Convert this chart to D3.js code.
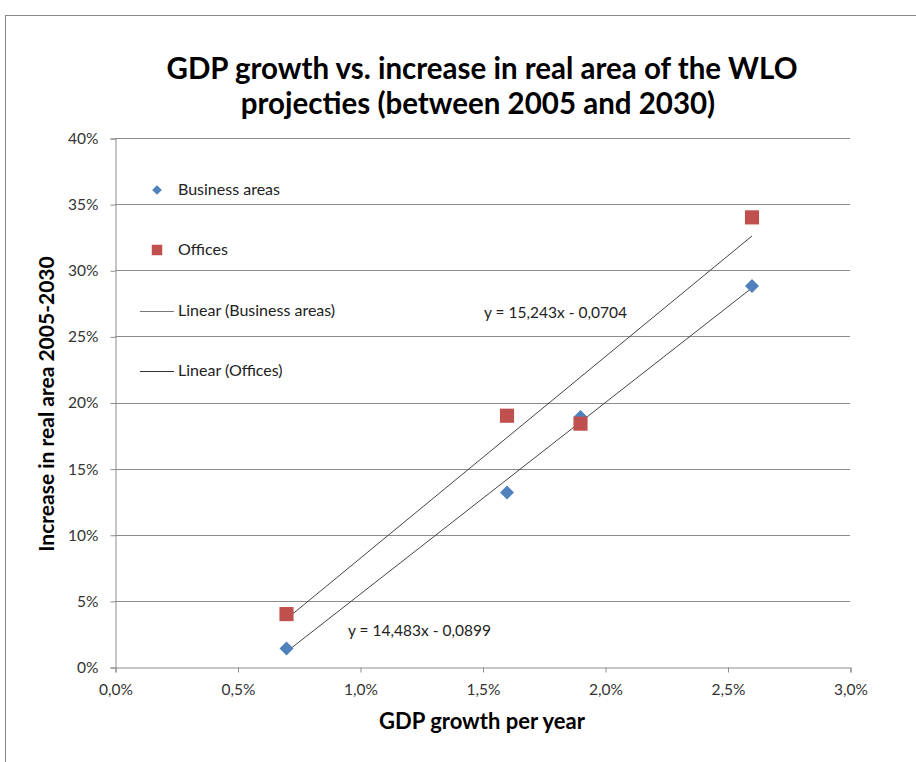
<!DOCTYPE html>
<html><head><meta charset="utf-8">
<script src="https://cdn.jsdelivr.net/npm/d3@7/dist/d3.min.js"></script>
<style>body{margin:0;background:#fff}svg{display:block;font-family:Lato,"Open Sans",sans-serif}</style>
</head><body>
<script>
const xValues = [0.007, 0.016, 0.019, 0.026];
const businessAreas = [0.014, 0.132, 0.189, 0.288];
const offices = [0.040, 0.190, 0.184, 0.340];
const trendBusiness = {slope: 14.483, intercept: -0.0899, label: "y = 14,483x - 0,0899"};
const trendOffices = {slope: 15.243, intercept: -0.0704, label: "y = 15,243x - 0,0704"};
const xTicks = [0, 0.005, 0.01, 0.015, 0.02, 0.025, 0.03];
const yTicks = [0, 0.05, 0.10, 0.15, 0.20, 0.25, 0.30, 0.35, 0.40];
const seriesNames = ["Business areas", "Offices", "Linear (Business areas)", "Linear (Offices)"];

const W = 916, H = 762;
const svg = d3.select("body").append("svg").attr("width", W).attr("height", H);
svg.append("rect").attr("x", 5.5).attr("y", 15.5).attr("width", 1000).attr("height", 1000)
  .attr("fill", "#fff").attr("stroke", "#888").attr("stroke-width", 1);

const x = d3.scaleLinear().domain([0, 0.03]).range([115, 850]);
const y = d3.scaleLinear().domain([0, 0.40]).range([667, 138]);
const comma = d => d3.format(".1%")(d).replace(".", ",");
const pct = d => d3.format(".0%")(d);

// gridlines
svg.append("g").selectAll("line").data(yTicks.slice(1)).join("line")
  .attr("x1", x(0)).attr("x2", x(0.03)).attr("y1", d => Math.round(y(d)) + 0.5).attr("y2", d => Math.round(y(d)) + 0.5)
  .attr("stroke", "#8c8c8c").attr("stroke-width", 1);

const yAxis = svg.append("g").attr("transform", `translate(${x(0) + 0.5},0.5)`)
  .call(d3.axisLeft(y).tickValues(yTicks).tickFormat(pct).tickSize(5).tickPadding(12));
const xAxis = svg.append("g").attr("transform", `translate(0.5,${Math.round(y(0)) + 0.5})`)
  .call(d3.axisBottom(x).tickValues(xTicks).tickFormat(comma).tickSize(5).tickPadding(11));
[yAxis, xAxis].forEach(a => {
  a.select(".domain").attr("stroke", "#8c8c8c");
  a.selectAll(".tick line").attr("stroke", "#8c8c8c");
  a.selectAll("text").attr("fill", "#333").attr("font-size", 15.5).attr("font-family", "Lato, 'Open Sans', sans-serif");
});

// trendlines
const trends = [trendBusiness, trendOffices];
svg.append("g").selectAll("line").data(trends).join("line")
  .attr("x1", x(d3.min(xValues))).attr("x2", x(d3.max(xValues)))
  .attr("y1", d => y(d.slope * d3.min(xValues) + d.intercept))
  .attr("y2", d => y(d.slope * d3.max(xValues) + d.intercept))
  .attr("stroke", "#444").attr("stroke-width", 1);

// markers
const diamond = d3.symbol().type(d3.symbolDiamond2).size(125);
const square = d3.symbol().type(d3.symbolSquare).size(200);
svg.append("g").selectAll("path").data(businessAreas).join("path")
  .attr("d", diamond).attr("transform", (d, i) => `translate(${x(xValues[i])},${y(d)})`)
  .attr("fill", "#4F81BD");
svg.append("g").selectAll("path").data(offices).join("path")
  .attr("d", square).attr("transform", (d, i) => `translate(${x(xValues[i])},${y(d)})`)
  .attr("fill", "#C0504D");

// equation labels
svg.append("text").attr("x", 484).attr("y", 318).text(trendOffices.label)
  .attr("font-size", 15.5).attr("fill", "#222");
svg.append("text").attr("x", 348).attr("y", 636).text(trendBusiness.label)
  .attr("font-size", 15.5).attr("fill", "#222");

// legend
const lg = svg.append("g");
const ly = [190, 250, 311, 371];
lg.append("path").attr("d", d3.symbol().type(d3.symbolDiamond2).size(60)).attr("transform", `translate(157,${ly[0]})`).attr("fill", "#4F81BD");
lg.append("path").attr("d", d3.symbol().type(d3.symbolSquare).size(110)).attr("transform", `translate(157,${ly[1]})`).attr("fill", "#C0504D");
lg.append("line").attr("x1", 140).attr("x2", 174).attr("y1", ly[2] + 0.5).attr("y2", ly[2] + 0.5).attr("stroke", "#777");
lg.append("line").attr("x1", 140).attr("x2", 174).attr("y1", ly[3] + 0.5).attr("y2", ly[3] + 0.5).attr("stroke", "#333");
lg.selectAll("text").data(seriesNames).join("text")
  .attr("x", 178).attr("y", (d, i) => ly[i] + 5).text(d => d)
  .attr("font-size", 16).attr("fill", "#222");

// title
const t = svg.append("text").attr("text-anchor", "middle").attr("font-weight", "bold").attr("font-size", 29.5).attr("fill", "#000");
t.append("tspan").attr("x", 482).attr("y", 79).text("GDP growth vs. increase in real area of the WLO");
t.append("tspan").attr("x", 478).attr("y", 114).text("projecties (between 2005 and 2030)");

// axis titles
svg.append("text").attr("x", 482).attr("y", 729).attr("text-anchor", "middle")
  .attr("font-weight", "bold").attr("font-size", 22).text("GDP growth per year");
svg.append("text").attr("transform", "translate(54,404) rotate(-90)").attr("text-anchor", "middle")
  .attr("font-weight", "bold").attr("font-size", 21).text("Increase in real area 2005-2030");
</script>
</body></html>
